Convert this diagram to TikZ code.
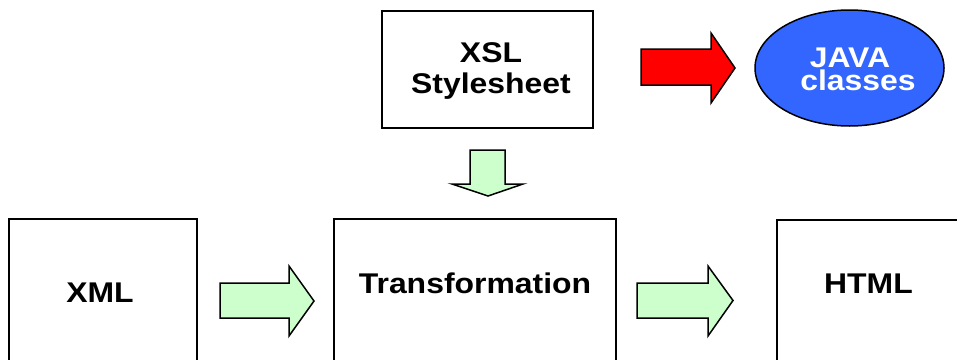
\documentclass[tikz,border=0pt]{standalone}
\usepackage{fontspec}
\setmainfont{Liberation Sans}
\usetikzlibrary{shapes.geometric}
\definecolor{lgreen}{HTML}{CCFFCC}
\definecolor{jblue}{HTML}{3366FF}
\definecolor{ared}{HTML}{FF0000}
\tikzset{
  box/.style={draw=black, line width=2pt, fill=white},
  blockarrow/.style={draw=black, line width=1.5pt, line join=miter},
  lbl/.style={anchor=base, inner sep=0pt, font=\bfseries\fontsize{28.5}{31}\selectfont, xscale=1.12},
}
\begin{document}
\begin{tikzpicture}[x=1pt, y=-1pt]
\useasboundingbox (0,0) rectangle (957,359);
\begin{scope}
\clip (0,0) rectangle (957,359);
% boxes
\draw[box] (382,11) rectangle (593,128);
\draw[box] (9,219) rectangle (197,380);
\draw[box] (334,219) rectangle (616,380);
\draw[box] (777,220) rectangle (980,380);
\end{scope}
% ellipse
\node[draw=black, line width=1.5pt, fill=jblue, ellipse, minimum width=189pt, minimum height=116pt, inner sep=0pt] (java) at (849.5,68) {};
% block arrows
\draw[blockarrow, fill=ared] (641,49) -- (711,49) -- (711,33) -- (735,68) -- (711,103) -- (711,85) -- (641,85) -- cycle;
\draw[blockarrow, fill=lgreen] (470,150) -- (505,150) -- (505,184) -- (523,184) -- (488,196) -- (452,184) -- (470,184) -- cycle;
\draw[blockarrow, fill=lgreen] (220,283) -- (289,283) -- (289,266) -- (314,301) -- (289,336) -- (289,318) -- (220,318) -- cycle;
\draw[blockarrow, fill=lgreen] (637,283) -- (708,283) -- (708,266) -- (733,300.5) -- (708,336) -- (708,318) -- (637,318) -- cycle;
% labels
\node[lbl] (xsl1) at (491,62) {XSL};
\node[lbl] (xsl2) at (491,93) {Stylesheet};
\node[lbl] (xml) at (100,302) {XML};
\node[lbl] (trans) at (475,293) {Transformation};
\node[lbl] (html) at (868.5,293) {HTML};
\node[lbl, text=white] (java1) at (850,67) {JAVA};
\node[lbl, text=white] (java2) at (858,90) {classes};
\end{tikzpicture}
\end{document}
